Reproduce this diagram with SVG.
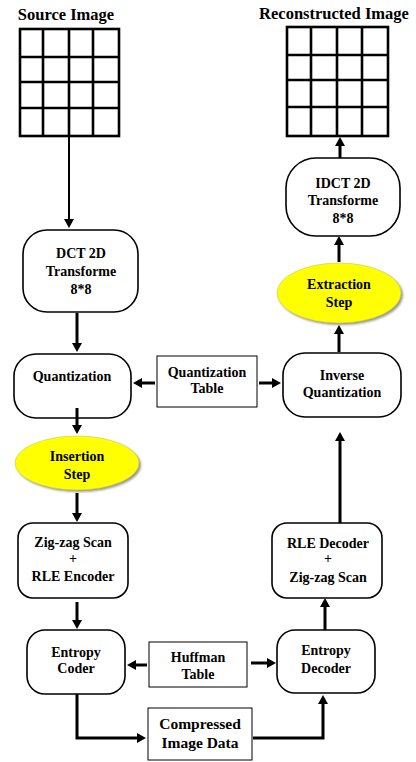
<svg xmlns="http://www.w3.org/2000/svg" width="416" height="762" viewBox="0 0 416 762" font-family="'Liberation Serif', 'Times New Roman', 'DejaVu Serif', serif">
  <defs>
    <marker id="head" markerUnits="userSpaceOnUse" markerWidth="9" markerHeight="10" viewBox="0 0 9 10" refX="1" refY="5" orient="auto">
      <path d="M0,0 L9,5 L0,10 z" fill="#000"/>
    </marker>
    <filter id="soft" x="-20%" y="-20%" width="140%" height="140%">
      <feGaussianBlur stdDeviation="1.2"/>
    </filter>
  </defs>
  <style>
    text { font-family: 'Liberation Serif', 'Times New Roman', 'DejaVu Serif', serif; font-weight: bold; fill: #000; text-anchor: middle; }
    .title { font-size: 16.5px; }
    .lbl { font-size: 14px; }
    .big { font-size: 15.5px; }
    .rbox { fill: #fff; stroke: #000; stroke-width: 1.6; }
    .sbox { fill: #fff; stroke: #000; stroke-width: 1; }
    .grid { fill: none; stroke: #000; stroke-width: 2.6; }
    .ell { fill: #ffff00; stroke: #c8c860; stroke-width: 0.6; }
    .shadow { fill: #9a9a88; filter: url(#soft); }
    .arrow { fill: none; stroke: #000; stroke-width: 3; marker-end: url(#head); }
    .thin { stroke-width: 2; }
  </style>

  <!-- Source image block -->
  <g id="source-image">
    <text class="title" x="66" y="20">Source Image</text>
    <rect class="grid" x="20" y="29" width="99" height="107"/>
    <path class="grid" d="M43,29 V136 M69,29 V136 M93,29 V136 M20,57 H119 M20,82 H119 M19,108 H119"/>
  </g>

  <!-- Reconstructed image block -->
  <g id="reconstructed-image">
    <text class="title" x="334" y="19">Reconstructed Image</text>
    <rect class="grid" x="287" y="27" width="101" height="109"/>
    <path class="grid" d="M311,27 V136 M337,27 V136 M362,27 V136 M287,55 H388 M287,80 H388 M286,107 H388"/>
  </g>

  <!-- Encoder side -->
  <g id="dct">
    <rect class="rbox" x="23" y="230" width="115" height="82" rx="24" ry="24"/>
    <text class="lbl" x="81" y="258">DCT 2D</text>
    <text class="lbl" x="81" y="276">Transforme</text>
    <text class="lbl" x="81" y="294">8*8</text>
  </g>

  <g id="quantization">
    <rect class="rbox" x="14" y="354" width="117" height="64" rx="22" ry="22"/>
    <text class="lbl" x="72" y="381">Quantization</text>
  </g>

  <g id="insertion-step">
    <ellipse class="shadow" cx="79" cy="465" rx="62" ry="27"/>
    <ellipse class="ell" cx="77" cy="463" rx="62" ry="27"/>
    <text class="lbl" x="77" y="461">Insertion</text>
    <text class="lbl" x="77" y="479">Step</text>
  </g>

  <g id="zigzag-rle-encoder">
    <rect class="rbox" x="18" y="523" width="110" height="75" rx="15" ry="15"/>
    <text class="lbl" x="73" y="547">Zig-zag Scan</text>
    <text class="lbl" x="73" y="563">+</text>
    <text class="lbl" x="73" y="581">RLE Encoder</text>
  </g>

  <g id="entropy-coder">
    <rect class="rbox" x="27" y="630" width="98" height="64" rx="18" ry="18"/>
    <text class="lbl" x="76" y="657">Entropy</text>
    <text class="lbl" x="76" y="673">Coder</text>
  </g>

  <!-- Shared tables and data -->
  <g id="quantization-table">
    <rect class="sbox" x="157" y="356" width="100" height="51"/>
    <text class="lbl" x="207" y="377">Quantization</text>
    <text class="lbl" x="207" y="393">Table</text>
  </g>

  <g id="huffman-table">
    <rect class="sbox" x="149" y="642" width="98" height="45"/>
    <text class="lbl" x="198" y="662">Huffman</text>
    <text class="lbl" x="198" y="679">Table</text>
  </g>

  <g id="compressed-data">
    <rect class="sbox" x="148" y="708" width="104" height="52"/>
    <text class="big" x="200" y="729">Compressed</text>
    <text class="big" x="200" y="748">Image Data</text>
  </g>

  <!-- Decoder side -->
  <g id="entropy-decoder">
    <rect class="rbox" x="277" y="630" width="98" height="63" rx="18" ry="18"/>
    <text class="lbl" x="326" y="655">Entropy</text>
    <text class="lbl" x="326" y="673">Decoder</text>
  </g>

  <g id="rle-decoder-zigzag">
    <rect class="rbox" x="272" y="523" width="110" height="75" rx="15" ry="15"/>
    <text class="lbl" x="328" y="548">RLE Decoder</text>
    <text class="lbl" x="328" y="563">+</text>
    <text class="lbl" x="328" y="582">Zig-zag Scan</text>
  </g>

  <g id="inverse-quantization">
    <rect class="rbox" x="283" y="353" width="118" height="64" rx="22" ry="22"/>
    <text class="lbl" x="342" y="380">Inverse</text>
    <text class="lbl" x="342" y="397">Quantization</text>
  </g>

  <g id="extraction-step">
    <ellipse class="shadow" cx="341" cy="295" rx="62" ry="30"/>
    <ellipse class="ell" cx="339" cy="293" rx="62" ry="30"/>
    <text class="lbl" x="339" y="289">Extraction</text>
    <text class="lbl" x="339" y="307">Step</text>
  </g>

  <g id="idct">
    <rect class="rbox" x="286" y="158" width="114" height="78" rx="30" ry="30"/>
    <text class="lbl" x="343" y="188">IDCT 2D</text>
    <text class="lbl" x="343" y="205">Transforme</text>
    <text class="lbl" x="343" y="223">8*8</text>
  </g>

  <!-- Connectors -->
  <g id="connectors">
    <line class="arrow thin" x1="69" y1="136" x2="69" y2="220"/>
    <line class="arrow" x1="77" y1="313" x2="77" y2="344"/>
    <line class="arrow" x1="77" y1="408" x2="77" y2="426"/>
    <line class="arrow" x1="77" y1="493" x2="77" y2="514"/>
    <line class="arrow" x1="77" y1="602" x2="77" y2="621"/>
    <line class="arrow" x1="155" y1="383" x2="141" y2="383"/>
    <line class="arrow" x1="259" y1="383" x2="273" y2="383"/>
    <line class="arrow" x1="147" y1="665" x2="135" y2="665"/>
    <line class="arrow" x1="251" y1="663" x2="268" y2="663"/>
    <polyline class="arrow" points="77,694 77,738 138,738"/>
    <polyline class="arrow" points="253,738 323,738 323,703"/>
    <line class="arrow" x1="325" y1="630" x2="325" y2="606"/>
    <line class="arrow" x1="340" y1="523" x2="340" y2="440"/>
    <line class="arrow" x1="339" y1="352" x2="339" y2="333"/>
    <line class="arrow" x1="339" y1="262" x2="339" y2="244"/>
    <line class="arrow" x1="340" y1="158" x2="340" y2="145"/>
  </g>
</svg>
